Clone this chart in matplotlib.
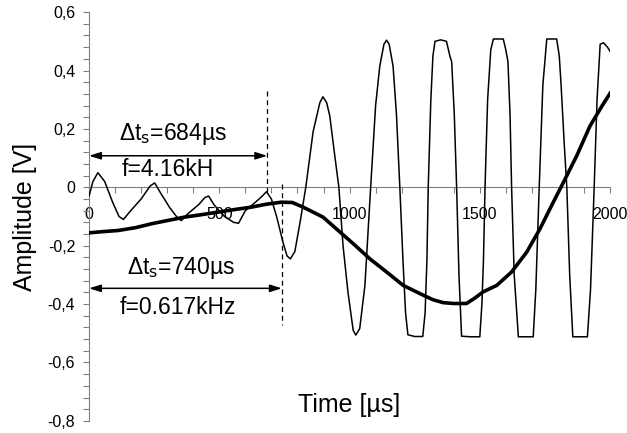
import numpy as np
import matplotlib.pyplot as plt
from matplotlib.ticker import FixedLocator, MultipleLocator

# Signal 1 (duenne Linie)
t1 = [0, 15, 34, 60, 90, 115, 132, 160, 200, 235, 252, 275, 310, 340, 354, 380, 420, 445, 459,
      480, 520, 555, 574, 600, 640, 665, 681, 700, 720, 745, 760, 773, 790, 810, 832, 860, 886,
      898, 912, 924, 943, 959, 975, 994, 1014, 1024, 1039, 1059, 1081, 1100, 1116, 1132, 1142,
      1152, 1167, 1180, 1193, 1205, 1215, 1224, 1250, 1281, 1290, 1297, 1302, 1312, 1320, 1328,
      1350, 1372, 1385, 1392, 1402, 1411, 1420, 1430, 1465, 1500, 1508, 1514, 1520, 1530, 1542,
      1552, 1570, 1590, 1600, 1608, 1616, 1622, 1632, 1648, 1675, 1705, 1715, 1728, 1742, 1757,
      1775, 1795, 1805, 1812, 1824, 1834, 1845, 1857, 1885, 1913, 1925, 1939, 1950, 1962, 1975,
      1990, 2000]
v1 = [-0.03, 0.02, 0.05, 0.02, -0.05, -0.10, -0.11, -0.08, -0.04, 0.005, 0.015, -0.02, -0.07,
      -0.105, -0.114, -0.09, -0.06, -0.035, -0.03, -0.06, -0.10, -0.12, -0.123, -0.08, -0.05,
      -0.03, -0.015, -0.04, -0.10, -0.19, -0.235, -0.245, -0.22, -0.12, 0.0, 0.19, 0.29, 0.31,
      0.29, 0.245, 0.11, 0.0, -0.2, -0.36, -0.49, -0.506, -0.484, -0.336, 0.0, 0.28, 0.415, 0.49,
      0.504, 0.49, 0.415, 0.25, 0.0, -0.25, -0.43, -0.505, -0.511, -0.511, -0.43, -0.25, 0.0,
      0.3, 0.45, 0.50, 0.505, 0.50, 0.45, 0.43, 0.25, 0.0, -0.3, -0.51, -0.512, -0.512, -0.4,
      -0.25, 0.0, 0.3, 0.47, 0.508, 0.508, 0.508, 0.47, 0.43, 0.25, 0.0, -0.3, -0.512, -0.512,
      -0.512, -0.35, 0.0, 0.35, 0.508, 0.508, 0.508, 0.45, 0.35, 0.15, 0.0, -0.3, -0.512, -0.512,
      -0.512, -0.35, 0.0, 0.3, 0.49, 0.495, 0.48, 0.466]

# Signal 2 (dicke Linie)
t2 = [0, 50, 111, 180, 239, 300, 367, 430, 495, 560, 623, 680, 738, 780, 822, 860, 898, 949,
      1014, 1078, 1142, 1206, 1270, 1320, 1359, 1400, 1449, 1480, 1513, 1565, 1622, 1680, 1731,
      1782, 1821, 1872, 1923, 1970, 2000]
v2 = [-0.156, -0.152, -0.148, -0.138, -0.125, -0.114, -0.102, -0.094, -0.085, -0.076, -0.068,
      -0.058, -0.051, -0.052, -0.068, -0.085, -0.102, -0.142, -0.193, -0.245, -0.29, -0.336,
      -0.364, -0.385, -0.395, -0.398, -0.398, -0.38, -0.358, -0.336, -0.29, -0.222, -0.142,
      -0.051, 0.017, 0.108, 0.21, 0.28, 0.322]

xticks = [0, 500, 1000, 1500, 2000]
yticks = [-0.8, -0.6, -0.4, -0.2, 0, 0.2, 0.4, 0.6]
ytick_labels = ['-0,8', '-0,6', '-0,4', '-0,2', '0', '0,2', '0,4', '0,6']

plt.rcParams['font.family'] = ['Liberation Sans', 'DejaVu Sans']

fig = plt.figure(figsize=(6.27, 4.33), dpi=100)
ax = fig.add_axes([0.142, 0.028, 0.831, 0.944])

ax.plot(t1, v1, color='black', lw=1.1, zorder=3)
ax.plot(t2, v2, color='black', lw=2.6, zorder=3)

ax.set_xlim(0, 2000)
ax.set_ylim(-0.8, 0.6)
ax.set_axisbelow(True)

for s in ['top', 'right']:
    ax.spines[s].set_visible(False)
ax.spines['bottom'].set_position(('data', 0))
ax.spines['bottom'].set_color('#808080')
ax.spines['left'].set_color('#808080')

ax.xaxis.set_major_locator(FixedLocator(xticks))
ax.xaxis.set_minor_locator(MultipleLocator(100))
ax.yaxis.set_major_locator(FixedLocator(yticks))
ax.set_yticklabels(ytick_labels)
ax.yaxis.set_minor_locator(MultipleLocator(0.04))
ax.tick_params(which='both', colors='#808080', length=4, width=0.8, direction='out')
ax.tick_params(axis='x', which='major', labelcolor='black', labelsize=11.5, pad=10)
ax.tick_params(axis='y', which='major', labelcolor='black', labelsize=11.5, pad=6)

ax.text(0.5, 0.039, 'Time [\u00b5s]', transform=ax.transAxes, ha='center', va='center', fontsize=18)
ax.text(-0.123, 0.50, 'Amplitude [V]', transform=ax.transAxes, ha='center', va='center',
        rotation=90, fontsize=18)

# Markierungen
ax.plot([684, 684], [0.33, -0.02], color='black', lw=0.9, ls=(0, (4, 3)), zorder=4)
ax.plot([740, 740], [0.01, -0.472], color='black', lw=0.9, ls=(0, (4, 3)), zorder=4)
arrow = dict(arrowstyle='<|-|>,head_length=0.7,head_width=0.22', color='black', lw=1.1,
             shrinkA=0, shrinkB=0)
ax.annotate('', xy=(0, 0.108), xytext=(684, 0.108), arrowprops=arrow)
ax.annotate('', xy=(0, -0.346), xytext=(740, -0.346), arrowprops=arrow)
ax.text(322, 0.183, '\u0394t$_{\\rm s}$=684\u00b5s', ha='center', va='center', fontsize=16.5)
ax.text(303, 0.06, 'f=4.16kH', ha='center', va='center', fontsize=16.5)
ax.text(354, -0.278, '\u0394t$_{\\rm s}$=740\u00b5s', ha='center', va='center', fontsize=16.5)
ax.text(341, -0.412, 'f=0.617kHz', ha='center', va='center', fontsize=16.5)

plt.savefig('out.png', dpi=100)
